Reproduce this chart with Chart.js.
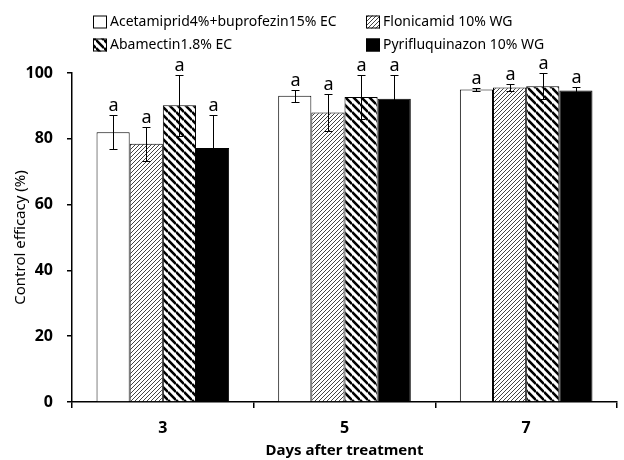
<!DOCTYPE html>
<html>
<head>
<meta charset="utf-8">
<script src="https://cdn.jsdelivr.net/npm/chart.js@4/dist/chart.umd.min.js"></script>
<style>
  html, body { margin: 0; padding: 0; background: #fff; }
  #wrap { width: 624px; height: 460px; }
</style>
</head>
<body>
<div id="wrap"><canvas id="efficacyChart" width="624" height="460"></canvas></div>
<script>
const days = ['3', '5', '7'];

const seriesNames = [
    'Acetamiprid4%+buprofezin15% EC',
    'Flonicamid 10% WG',
    'Abamectin1.8% EC',
    'Pyrifluquinazon 10% WG'
];

const acetamiprid = [82.0, 93.1, 95.0];
const flonicamid = [78.5, 88.0, 95.6];
const abamectin = [90.2, 92.7, 96.0];
const pyrifluquinazon = [77.2, 92.2, 94.7];

const errAcetamiprid = [5.2, 1.8, 0.5];
const errFlonicamid = [5.1, 5.7, 1.2];
const errAbamectin = [9.2, 6.6, 4.0];
const errPyrifluquinazon = [9.9, 7.1, 1.0];

const letters = [
    ['a', 'a', 'a'],
    ['a', 'a', 'a'],
    ['a', 'a', 'a'],
    ['a', 'a', 'a']
];

const FONT = '"Noto Sans", "DejaVu Sans", sans-serif';

// hatch fills
function fineHatch() {
    const p = 4;
    const c = document.createElement('canvas');
    c.width = p; c.height = p;
    const g = c.getContext('2d');
    g.fillStyle = '#fff';
    g.fillRect(0, 0, p, p);
    g.strokeStyle = '#444';
    g.lineWidth = 1;
    g.beginPath();
    for (let k = -1; k <= 1; k++) {
        g.moveTo(k * p, p);
        g.lineTo(k * p + p, 0);
    }
    g.stroke();
    return g.createPattern(c, 'repeat');
}

function boldHatch() {
    const p = 8;
    const c = document.createElement('canvas');
    c.width = p; c.height = p;
    const g = c.getContext('2d');
    g.fillStyle = '#fff';
    g.fillRect(0, 0, p, p);
    g.strokeStyle = '#000';
    g.lineWidth = 2.6;
    g.beginPath();
    for (let k = -1; k <= 1; k++) {
        g.moveTo(0, k * p);
        g.lineTo(p, k * p + p);
    }
    g.stroke();
    return g.createPattern(c, 'repeat');
}

const fills = ['#ffffff', fineHatch(), boldHatch(), '#000000'];
const values = [acetamiprid, flonicamid, abamectin, pyrifluquinazon];
const errors = [errAcetamiprid, errFlonicamid, errAbamectin, errPyrifluquinazon];

const datasets = seriesNames.map((name, i) => ({
    label: name,
    data: values[i],
    errors: errors[i],
    letters: letters[i],
    backgroundColor: fills[i],
    borderColor: '#000',
    borderWidth: 1,
    barPercentage: 1.0,
    categoryPercentage: 0.73
}));

const errorBars = {
    id: 'errorBars',
    afterDatasetsDraw(chart) {
        const ctx = chart.ctx;
        const y = chart.scales.y;
        ctx.save();
        ctx.strokeStyle = '#000';
        ctx.fillStyle = '#000';
        ctx.lineWidth = 1;
        ctx.font = '18px ' + FONT;
        ctx.textAlign = 'center';
        ctx.textBaseline = 'bottom';
        chart.data.datasets.forEach((ds, i) => {
            const meta = chart.getDatasetMeta(i);
            meta.data.forEach((bar, j) => {
                const v = ds.data[j], e = ds.errors[j];
                const x = Math.round(bar.x) + 0.5;
                const top = Math.round(y.getPixelForValue(v + e)) + 0.5;
                const bot = Math.round(y.getPixelForValue(v - e)) + 0.5;
                ctx.beginPath();
                ctx.moveTo(x, top); ctx.lineTo(x, bot);
                ctx.moveTo(x - 4, top); ctx.lineTo(x + 4, top);
                ctx.moveTo(x - 4, bot); ctx.lineTo(x + 4, bot);
                ctx.stroke();
                ctx.fillText(ds.letters[j], x, top - 1);
            });
        });
        ctx.restore();
    }
};

const boxLegend = {
    id: 'boxLegend',
    afterDraw(chart) {
        const ctx = chart.ctx;
        const spots = [[93, 22], [366, 22], [93, 45], [366, 45]];
        ctx.save();
        ctx.font = '14px ' + FONT;
        ctx.textBaseline = 'middle';
        ctx.textAlign = 'left';
        chart.data.datasets.forEach((ds, i) => {
            const [bx, cy] = spots[i];
            ctx.fillStyle = ds.backgroundColor;
            ctx.fillRect(bx, cy - 6.5, 14, 13);
            ctx.strokeStyle = '#000';
            ctx.lineWidth = 1;
            ctx.strokeRect(bx + 0.5, cy - 6, 13, 12);
            ctx.fillStyle = '#000';
            ctx.fillText(ds.label, bx + 17, cy);
        });
        ctx.restore();
    }
};

new Chart(document.getElementById('efficacyChart'), {
    type: 'bar',
    data: { labels: days, datasets: datasets },
    options: {
        responsive: false,
        animation: false,
        layout: { padding: { top: 73, right: 7, left: 0, bottom: 0 } },
        plugins: { legend: { display: false }, tooltip: { enabled: false } },
        scales: {
            x: {
                offset: true,
                grid: { offset: true, drawOnChartArea: false, tickLength: 6, color: '#000', lineWidth: 1.5 },
                border: { color: '#000', width: 1.5 },
                ticks: { color: '#000', padding: 11, font: { family: FONT, size: 16, weight: 'bold' } },
                title: {
                    display: true, text: 'Days after treatment', color: '#000',
                    padding: { top: 0, bottom: 0 },
                    font: { family: FONT, size: 15, weight: 'bold' }
                },
                afterFit(scale) { scale.height = 58; }
            },
            y: {
                min: 0, max: 100,
                grid: { drawOnChartArea: false, tickLength: 5, color: '#000', lineWidth: 1.5 },
                border: { color: '#000', width: 1.5 },
                ticks: { stepSize: 20, color: '#000', padding: 14, font: { family: FONT, size: 16, weight: 'bold' } },
                title: {
                    display: true, text: 'Control efficacy (%)', color: '#000',
                    padding: { top: 12, bottom: 0 },
                    font: { family: FONT, size: 15 }
                },
                afterFit(scale) { scale.width = 72; }
            }
        }
    },
    plugins: [errorBars, boxLegend]
});
</script>
</body>
</html>
